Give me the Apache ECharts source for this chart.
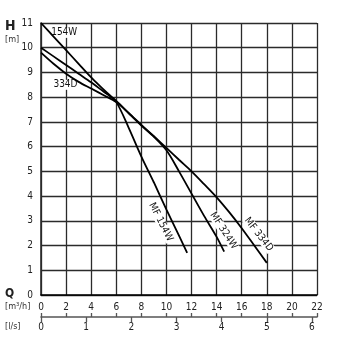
<!DOCTYPE html>
<html><head><meta charset="utf-8">
<script src="https://cdn.jsdelivr.net/npm/echarts@6/dist/echarts.min.js"></script>
<style>html,body{margin:0;padding:0;background:#fff}#c{width:355px;height:355px}</style>
</head><body><div id="c"></div>
<script>
const FONT = "'Liberation Sans Narrow','DejaVu Sans Condensed','Roboto',sans-serif";
const qTicks = [0,2,4,6,8,10,12,14,16,18,20,22];
const hTicks = [0,1,2,3,4,5,6,7,8,9,10,11];
const lsTicks = [0,1,2,3,4,5,6];
const LS_TO_M3H = 3.6;

const q154W = [0,1,2,3,4,5,6,7,8,9,10,11,11.65];
const h154W = [11,10.45,9.9,9.35,8.8,8.3,7.8,6.75,5.6,4.55,3.45,2.4,1.7];
const q324W = [0,1,2,3,4,5,6,7,8,9,10,11,12,13,14,14.6];
const h324W = [10,9.65,9.3,8.95,8.6,8.22,7.85,7.35,6.85,6.4,5.85,5.0,4.1,3.2,2.35,1.75];
const q334D = [0,1,2,3,4,5,6,7,8,9,10,11,12,13,14,15,16,17,18];
const h334D = [9.8,9.35,8.95,8.62,8.35,8.08,7.8,7.35,6.88,6.42,5.95,5.47,5.0,4.48,3.95,3.35,2.7,2.0,1.3];

const labels = [
  {text:'154W', q:1.85, h:10.6, rot:0},
  {text:'334D', q:1.95, h:8.5, rot:0},
  {text:'MF 154W', q:9.55, h:2.95, rot:-63},
  {text:'MF 324W', q:14.55, h:2.6, rot:-57},
  {text:'MF 334D', q:17.35, h:2.45, rot:-52}
];

const zip = (a,b)=>a.map((v,i)=>[v,b[i]]);
const chart = echarts.init(document.getElementById('c'), null, {renderer:'canvas'});
const gridColor = '#2b2b2b';
const lineSeries = (d)=>({type:'line', data:d, xAxisIndex:0, yAxisIndex:0, symbol:'none', smooth:0.3,
  lineStyle:{color:'#000', width:1.8}, silent:true, z:5});

chart.setOption({
  animation:false,
  grid:{left:41, right:38, top:23, bottom:60, show:false},
  xAxis:[
    {type:'value', min:qTicks[0], max:qTicks[qTicks.length-1], interval:2,
      axisLine:{show:true, lineStyle:{color:'#000', width:1.6}},
      axisTick:{show:false},
      axisLabel:{margin:7, fontSize:10, color:'#222', fontFamily:FONT},
      splitLine:{show:true, lineStyle:{color:gridColor, width:1.3}}},
    {type:'value', position:'bottom', offset:22, min:qTicks[0], max:qTicks[qTicks.length-1], interval:2,
      axisLine:{show:true, lineStyle:{color:'#555', width:1.6}},
      axisTick:{show:true, inside:true, length:4, lineStyle:{color:'#555', width:1.3}},
      axisLabel:{show:false}, splitLine:{show:false}},
    {type:'value', position:'bottom', offset:22, min:qTicks[0], max:qTicks[qTicks.length-1],
      axisLine:{show:false},
      axisTick:{show:true, inside:false, length:5, lineStyle:{color:'#555', width:1.3},
        customValues: lsTicks.map(v=>v*LS_TO_M3H)},
      axisLabel:{show:true, margin:5, fontSize:10, color:'#222', fontFamily:FONT,
        customValues: lsTicks.map(v=>v*LS_TO_M3H),
        formatter:(v)=>String(Math.round(v/LS_TO_M3H))},
      splitLine:{show:false}}
  ],
  yAxis:{type:'value', min:hTicks[0], max:hTicks[hTicks.length-1], interval:1,
    axisLine:{show:true, lineStyle:{color:gridColor, width:1.6}},
    axisTick:{show:false},
    axisLabel:{margin:8, fontSize:10, color:'#222', fontFamily:FONT},
    splitLine:{show:true, lineStyle:{color:gridColor, width:1.3}}},
  series:[lineSeries(zip(q154W,h154W)), lineSeries(zip(q324W,h324W)), lineSeries(zip(q334D,h334D))]
});

const g = [
  {type:'text', left:5, top:19, style:{text:'H', fontSize:14, fontWeight:'bold', fill:'#222', fontFamily:FONT}},
  {type:'text', left:5, top:35, style:{text:'[m]', fontSize:9, fill:'#333', fontFamily:FONT}},
  {type:'text', left:5, top:288, style:{text:'Q', fontSize:12, fontWeight:'bold', fill:'#222', fontFamily:FONT}},
  {type:'text', left:5, top:302, style:{text:'[m³/h]', fontSize:9, fill:'#333', fontFamily:FONT}},
  {type:'text', left:5, top:322, style:{text:'[l/s]', fontSize:9, fill:'#333', fontFamily:FONT}}
];
labels.forEach(l=>{
  const p = chart.convertToPixel({xAxisIndex:0, yAxisIndex:0}, [l.q, l.h]);
  g.push({type:'text', x:p[0], y:p[1], rotation:l.rot*Math.PI/180, z:1,
    style:{text:l.text, fontSize:10, fill:'#111', fontFamily:FONT, align:'center', verticalAlign:'middle',
      backgroundColor:'#fff', padding:[0,1]}});
});
chart.setOption({graphic:g});
</script></body></html>
